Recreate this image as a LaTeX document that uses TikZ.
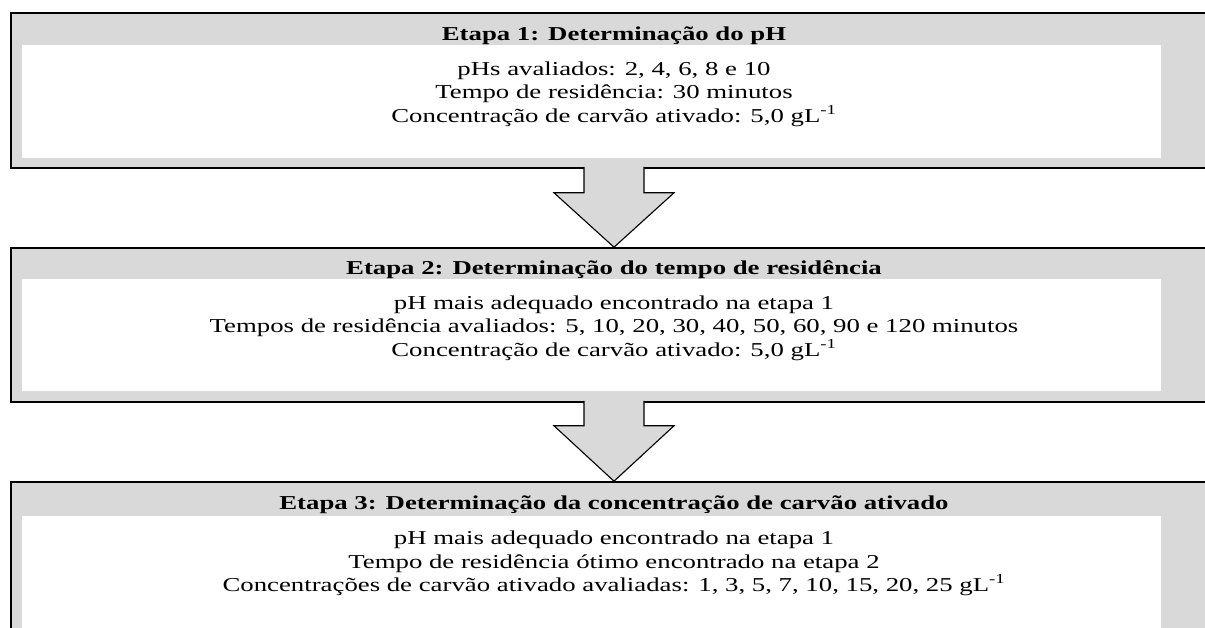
\documentclass[tikz,border=0pt]{standalone}
\usepackage{fontspec}
\setmainfont{Liberation Serif}[FakeStretch=1.36]
\usetikzlibrary{positioning, calc}

\definecolor{bandgray}{RGB}{217,217,217}

\begin{document}
\begin{tikzpicture}[x=0.025cm, y=-0.025cm,
        stagebox/.style={draw=black, line width=1.1pt, fill=bandgray, minimum width=30.15cm, inner sep=0pt},
        stagetitle/.style={font=\fontsize{14}{16}\selectfont\bfseries, anchor=base, inner sep=0pt},
        stagebody/.style={font=\fontsize{14}{16.4}\selectfont, align=center, anchor=north, inner sep=0pt},
        blockarrow/.style={draw=black, line width=0.8pt, fill=bandgray, line join=miter}]

      \clip (0,0) rectangle (1205,628);
      \fill[white] (0,0) rectangle (1205,628);

      % Stages
      \node[stagebox, minimum height=3.875cm] (stage1) at (614,90.5) {};
      \node[stagebox, minimum height=3.85cm] (stage2) at (614,325) {};
      \node[stagebox, minimum height=4cm] (stage3) at (614,562) {};

      % White panels
      \fill[white] ($(stage1.north west)+(12,33)$) rectangle ($(stage1.south west)+(1151,-11)$);
      \fill[white] ($(stage2.north west)+(12,32)$) rectangle ($(stage2.south west)+(1151,-12)$);
      \fill[white] ($(stage3.north west)+(12,35)$) rectangle ($(stage3.south west)+(1151,-11)$);

      % Titles
      \node[stagetitle] (title1) at (614,41) {Etapa 1: Determinação do pH};
      \node[stagetitle] (title2) at (614,275) {Etapa 2: Determinação do tempo de residência};
      \node[stagetitle] (title3) at (614,510) {Etapa 3: Determinação da concentração de carvão ativado};

      % Texts
      \node[stagebody] (body1) at (614,62) {pHs avaliados: 2, 4, 6, 8 e 10\\
        Tempo de residência: 30 minutos\\
        Concentração de carvão ativado: 5,0 gL\textsuperscript{-1}};
      \node[stagebody] (body2) at (614,296) {pH mais adequado encontrado na etapa 1\\
        Tempos de residência avaliados: 5, 10, 20, 30, 40, 50, 60, 90 e 120 minutos\\
        Concentração de carvão ativado: 5,0 gL\textsuperscript{-1}};
      \node[stagebody] (body3) at (614,531) {pH mais adequado encontrado na etapa 1\\
        Tempo de residência ótimo encontrado na etapa 2\\
        Concentrações de carvão ativado avaliadas: 1, 3, 5, 7, 10, 15, 20, 25 gL\textsuperscript{-1}};

      % Arrows between stages
      \draw[blockarrow] ($(stage1.south)+(-30,-2)$) -- ++(0,26) -- ++(-30,0) -- (stage2.north)
        -- ($(stage1.south)+(60,24)$) -- ++(-30,0) -- ++(0,-26);
      \draw[blockarrow] ($(stage2.south)+(-30,-2)$) -- ++(0,25) -- ++(-30,0) -- (stage3.north)
        -- ($(stage2.south)+(60,23)$) -- ++(-30,0) -- ++(0,-25);

\end{tikzpicture}
\end{document}
